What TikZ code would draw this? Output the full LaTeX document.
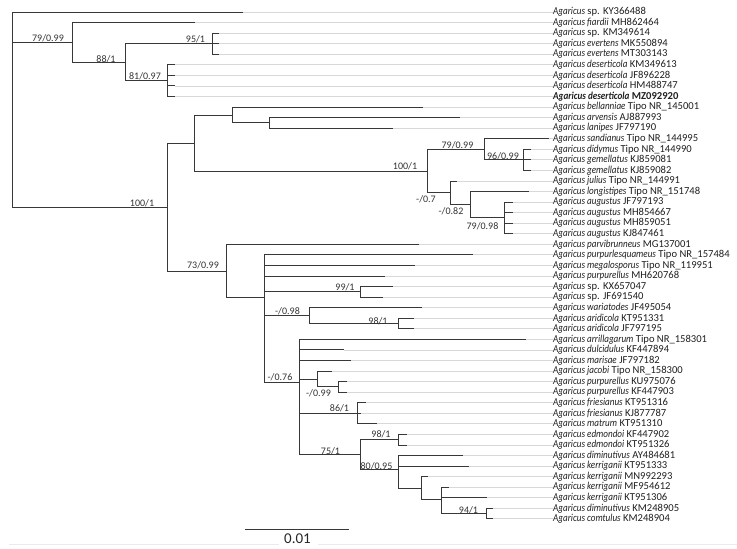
\documentclass[tikz,border=0pt]{standalone}
\usepackage{fontspec}
\setmainfont{Carlito}[ItalicFeatures={FakeStretch=0.86}, BoldItalicFeatures={FakeStretch=0.86}]
\tikzset{
  branch/.style={draw=black!78, line width=0.9pt},
  guide/.style={draw=black!15, line width=0.8pt},
  leaf/.style={anchor=west, inner sep=0pt, text=black!88, font=\fontsize{10.6}{12}\selectfont},
  supp/.style={inner sep=0pt, text=black!80, font=\fontsize{10}{11}\selectfont},
}
\newcommand{\agar}[1]{\textit{Agaricus #1}}
\begin{document}
\begin{tikzpicture}[x=1pt,y=-1pt]
\useasboundingbox (0,0) rectangle (737,549);
%% tips and taxa
\coordinate (t0) at (243,12.00);  \node[leaf] (l0) at (553,12.00) {\textit{Agaricus} sp. KY366488};
\coordinate (t1) at (195,22.56);  \node[leaf] (l1) at (553,22.56) {\agar{fiardii} MH862464};
\coordinate (t2) at (219,33.12);  \node[leaf] (l2) at (553,33.12) {\textit{Agaricus} sp. KM349614};
\coordinate (t3) at (219,43.68);  \node[leaf] (l3) at (553,43.68) {\agar{evertens} MK550894};
\coordinate (t4) at (219,54.24);  \node[leaf] (l4) at (553,54.24) {\agar{evertens} MT303143};
\coordinate (t5) at (175,64.80);  \node[leaf] (l5) at (553,64.80) {\agar{deserticola} KM349613};
\coordinate (t6) at (175,75.36);  \node[leaf] (l6) at (553,75.36) {\agar{deserticola} JF896228};
\coordinate (t7) at (175,85.92);  \node[leaf] (l7) at (553,85.92) {\agar{deserticola} HM488747};
\coordinate (t8) at (175,96.48);  \node[leaf] (l8) at (553,96.48) {\bfseries\agar{deserticola} MZ092920};
\coordinate (t9) at (423,107.04); \node[leaf] (l9) at (553,107.04) {\agar{bellanniae} Tipo NR\_145001};
\coordinate (t10) at (460,117.60); \node[leaf] (l10) at (553,117.60) {\agar{arvensis} AJ887993};
\coordinate (t11) at (393,128.16); \node[leaf] (l11) at (553,128.16) {\agar{lanipes} JF797190};
\coordinate (t12) at (549,138.72); \node[leaf] (l12) at (553,138.72) {\agar{sandianus} Tipo NR\_144995};
\coordinate (t13) at (531,149.28); \node[leaf] (l13) at (553,149.28) {\agar{didymus} Tipo NR\_144990};
\coordinate (t14) at (531,159.84); \node[leaf] (l14) at (553,159.84) {\agar{gemellatus} KJ859081};
\coordinate (t15) at (531,170.40); \node[leaf] (l15) at (553,170.40) {\agar{gemellatus} KJ859082};
\coordinate (t16) at (457,180.96); \node[leaf] (l16) at (553,180.96) {\agar{julius} Tipo NR\_144991};
\coordinate (t17) at (529,191.52); \node[leaf] (l17) at (553,191.52) {\agar{longistipes} Tipo NR\_151748};
\coordinate (t18) at (513,202.08); \node[leaf] (l18) at (553,202.08) {\agar{augustus} JF797193};
\coordinate (t19) at (513,212.64); \node[leaf] (l19) at (553,212.64) {\agar{augustus} MH854667};
\coordinate (t20) at (513,223.20); \node[leaf] (l20) at (553,223.20) {\agar{augustus} MH859051};
\coordinate (t21) at (513,233.76); \node[leaf] (l21) at (553,233.76) {\agar{augustus} KJ847461};
\coordinate (t22) at (419,244.32); \node[leaf] (l22) at (553,244.32) {\agar{parvibrunneus} MG137001};
\coordinate (t23) at (473,254.88); \node[leaf] (l23) at (553,254.88) {\agar{purpurlesquameus} Tipo NR\_157484};
\coordinate (t24) at (415,265.44); \node[leaf] (l24) at (553,265.44) {\agar{megalosporus} Tipo NR\_119951};
\coordinate (t25) at (385,276.00); \node[leaf] (l25) at (553,276.00) {\agar{purpurellus} MH620768};
\coordinate (t26) at (393,286.56); \node[leaf] (l26) at (553,286.56) {\textit{Agaricus} sp. KX657047};
\coordinate (t27) at (383,297.12); \node[leaf] (l27) at (553,297.12) {\textit{Agaricus} sp. JF691540};
\coordinate (t28) at (422,307.68); \node[leaf] (l28) at (553,307.68) {\agar{wariatodes} JF495054};
\coordinate (t29) at (414,318.24); \node[leaf] (l29) at (553,318.24) {\agar{aridicola} KT951331};
\coordinate (t30) at (414,328.80); \node[leaf] (l30) at (553,328.80) {\agar{aridicola} JF797195};
\coordinate (t31) at (526,339.36); \node[leaf] (l31) at (553,339.36) {\agar{arrillagarum} Tipo NR\_158301};
\coordinate (t32) at (344,349.92); \node[leaf] (l32) at (553,349.92) {\agar{dulcidulus} KF447894};
\coordinate (t33) at (351,360.48); \node[leaf] (l33) at (553,360.48) {\agar{marisae} JF797182};
\coordinate (t34) at (332,371.04); \node[leaf] (l34) at (553,371.04) {\agar{jacobi} Tipo NR\_158300};
\coordinate (t35) at (347,381.60); \node[leaf] (l35) at (553,381.60) {\agar{purpurellus} KU975076};
\coordinate (t36) at (347,392.16); \node[leaf] (l36) at (553,392.16) {\agar{purpurellus} KF447903};
\coordinate (t37) at (366,402.72); \node[leaf] (l37) at (553,402.72) {\agar{friesianus} KT951316};
\coordinate (t38) at (361,413.28); \node[leaf] (l38) at (553,413.28) {\agar{friesianus} KJ877787};
\coordinate (t39) at (377,423.84); \node[leaf] (l39) at (553,423.84) {\agar{matrum} KT951310};
\coordinate (t40) at (407,434.40); \node[leaf] (l40) at (553,434.40) {\agar{edmondoi} KF447902};
\coordinate (t41) at (407,444.96); \node[leaf] (l41) at (553,444.96) {\agar{edmondoi} KT951326};
\coordinate (t42) at (463,455.52); \node[leaf] (l42) at (553,455.52) {\agar{diminutivus} AY484681};
\coordinate (t43) at (469,466.08); \node[leaf] (l43) at (553,466.08) {\agar{kerriganii} KT951333};
\coordinate (t44) at (428,476.64); \node[leaf] (l44) at (553,476.64) {\agar{kerriganii} MN992293};
\coordinate (t45) at (449,487.20); \node[leaf] (l45) at (553,487.20) {\agar{kerriganii} MF954612};
\coordinate (t46) at (487,497.76); \node[leaf] (l46) at (553,497.76) {\agar{kerriganii} KT951306};
\coordinate (t47) at (493,508.32); \node[leaf] (l47) at (553,508.32) {\agar{diminutivus} KM248905};
\coordinate (t48) at (493,518.88); \node[leaf] (l48) at (553,518.88) {\agar{comtulus} KM248904};
%% internal nodes
\coordinate (root) at (12,87.13);
\coordinate (n1) at (72,42.36);
\coordinate (n2) at (125,62.16);
\coordinate (evert) at (212,43.68);
\coordinate (desert) at (167,80.64);
\coordinate (n3) at (167,207.03);
\coordinate (n4) at (194,143.01);
\coordinate (n5) at (232,114.96);
\coordinate (n6) at (269,122.88);
\coordinate (n7) at (427,171.06);
\coordinate (n8) at (484,149.28);
\coordinate (gem) at (523,159.84);
\coordinate (n9) at (450,192.84);
\coordinate (n10) at (470,204.72);
\coordinate (aug) at (504,217.92);
\coordinate (n11) at (226,271.04);
\coordinate (n12) at (264,297.76);
\coordinate (n13) at (360,291.84);
\coordinate (n14) at (309,315.60);
\coordinate (arid) at (398,323.52);
\coordinate (n15) at (299,382.80);
\coordinate (n16) at (317,378.96);
\coordinate (purp) at (338,386.88);
\coordinate (fries) at (357,413.28);
\coordinate (n17) at (360,454.79);
\coordinate (edm) at (398,439.68);
\coordinate (n18) at (398,469.89);
\coordinate (n19) at (421,488.08);
\coordinate (n20) at (441,499.52);
\coordinate (n21) at (486,513.60);
%% guide lines to the labels
\foreach \i in {0,...,48} \draw[guide] (t\i) -- (l\i.west);
%% branches
\draw[branch] (root) |- (t0) (root) |- (n1) (root) |- (n3);
\draw[branch] (n1) |- (t1) (n1) |- (n2);
\draw[branch] (n2) |- (evert) (n2) |- (desert);
\draw[branch] (evert) |- (t2) (evert) |- (t3) (evert) |- (t4);
\draw[branch] (desert) |- (t5) (desert) |- (t6) (desert) |- (t7) (desert) |- (t8);
\draw[branch] (n3) |- (n4) (n3) |- (n11);
\draw[branch] (n4) |- (n5) (n4) |- (n7);
\draw[branch] (n5) |- (t9) (n5) |- (n6);
\draw[branch] (n6) |- (t10) (n6) |- (t11);
\draw[branch] (n7) |- (n8) (n7) |- (n9);
\draw[branch] (n8) |- (t12) (n8) |- (gem);
\draw[branch] (gem) |- (t13) (gem) |- (t14) (gem) |- (t15);
\draw[branch] (n9) |- (t16) (n9) |- (n10);
\draw[branch] (n10) |- (t17) (n10) |- (aug);
\draw[branch] (aug) |- (t18) (aug) |- (t19) (aug) |- (t20) (aug) |- (t21);
\draw[branch] (n11) |- (t22) (n11) |- (n12);
\draw[branch] (n12) |- (t23) (n12) |- (t24) (n12) |- (t25) (n12) |- (n13) (n12) |- (n14) (n12) |- (n15);
\draw[branch] (n13) |- (t26) (n13) |- (t27);
\draw[branch] (n14) |- (t28) (n14) |- (arid);
\draw[branch] (arid) |- (t29) (arid) |- (t30);
\draw[branch] (n15) |- (t31) (n15) |- (t32) (n15) |- (t33) (n15) |- (n16) (n15) |- (fries) (n15) |- (n17);
\draw[branch] (n16) |- (t34) (n16) |- (purp);
\draw[branch] (purp) |- (t35) (purp) |- (t36);
\draw[branch] (fries) |- (t37) (fries) |- (t38) (fries) |- (t39);
\draw[branch] (n17) |- (edm) (n17) |- (n18);
\draw[branch] (edm) |- (t40) (edm) |- (t41);
\draw[branch] (n18) |- (t42) (n18) |- (t43) (n18) |- (n19);
\draw[branch] (n19) |- (t44) (n19) |- (n20);
\draw[branch] (n20) |- (t45) (n20) |- (t46) (n20) |- (n21);
\draw[branch] (n21) |- (t47) (n21) |- (t48);
%% support values
\node[supp] (s1) at (48,38) {79/0.99};
\node[supp] (s2) at (106,59) {88/1};
\node[supp] (s3) at (195.5,39) {95/1};
\node[supp] (s4) at (145,76) {81/0.97};
\node[supp] (s5) at (142,203.5) {100/1};
\node[supp] (s6) at (405,166) {100/1};
\node[supp] (s7) at (457.5,145.5) {79/0.99};
\node[supp] (s8) at (503,156) {96/0.99};
\node[supp] (s9) at (426,199) {-/0.7};
\node[supp] (s10) at (451,211.5) {-/0.82};
\node[supp] (s11) at (482.5,226) {79/0.98};
\node[supp] (s12) at (203,265.5) {73/0.99};
\node[supp] (s13) at (345,287) {99/1};
\node[supp] (s14) at (287.5,311.5) {-/0.98};
\node[supp] (s15) at (378,321) {98/1};
\node[supp] (s16) at (280,377) {-/0.76};
\node[supp] (s17) at (318.5,393.5) {-/0.99};
\node[supp] (s18) at (339.5,408.5) {86/1};
\node[supp] (s19) at (330.5,451.5) {75/1};
\node[supp] (s20) at (381,434.5) {98/1};
\node[supp] (s21) at (376.5,466) {80/0.95};
\node[supp] (s22) at (468.5,510) {94/1};
%% scale bar
\draw[black!8, line width=1.6pt] (9,544.5) -- (279,544.5) (318,544.5) -- (737,544.5);
\coordinate (sb0) at (245,529);
\coordinate (sb1) at (349,529);
\draw[branch] (sb0) -- (sb1);
\node[inner sep=0pt, text=black!85, font=\fontsize{15}{16}\selectfont] (sbl) at (297.5,538.5) {0.01};
\end{tikzpicture}
\end{document}
